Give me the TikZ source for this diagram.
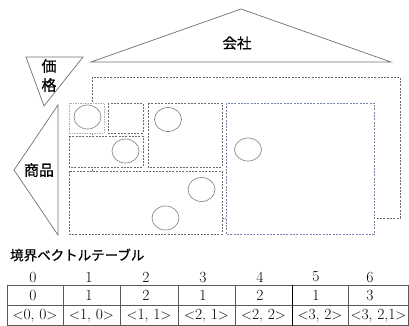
\documentclass[tikz,border=0pt]{standalone}
\usepackage{fontspec}
\newfontfamily\jp[FakeBold=0.8]{Noto Sans CJK JP}
\usetikzlibrary{shapes.geometric}
\definecolor{tri}{HTML}{707070}
\definecolor{dash}{HTML}{6A6A6A}
\definecolor{bluebox}{HTML}{7083B4}
\definecolor{lightbox}{HTML}{B0B0B0}
\tikzset{
  triline/.style={draw=tri, line width=0.7pt},
  dbox/.style={draw=dash, line width=0.55pt, dash pattern=on 2pt off 1.3pt, fill=white},
  lbox/.style={draw=lightbox, line width=0.9pt, dash pattern=on 1.5pt off 1pt, fill=white},
  bbox/.style={draw=bluebox, line width=0.55pt, dash pattern=on 2pt off 1.3pt, fill=white},
  blob/.style={ellipse, draw=tri!85, line width=0.65pt, minimum width=27pt, minimum height=24pt, inner sep=0pt},
  jlabel/.style={font=\jp\fontsize{15}{17}\selectfont, inner sep=0pt},
  cell/.style={font=\fontsize{15.5}{17}\selectfont, inner sep=0pt},
  tline/.style={draw=black!65, line width=0.6pt}
}
\begin{document}
\begin{tikzpicture}[x=1pt,y=-1pt]
\useasboundingbox (0,0) rectangle (409,326);
% company triangle
\coordinate (kL) at (91,62);
\coordinate (kT) at (241,9);
\coordinate (kR) at (391,62);
\draw[triline] (kL) -- (kT) -- (kR) -- cycle;
\node[jlabel, font=\jp\fontsize{14.5}{16}\selectfont] (kaisha) at (237,43) {会社};
% price triangle
\coordinate (pL) at (26,57);
\coordinate (pR) at (83,57);
\coordinate (pB) at (44,106);
\draw[triline] (pL) -- (pR) -- (pB) -- cycle;
\node[jlabel] (ka) at (49,66) {価};
\node[jlabel] (kaku) at (49,85) {格};
% product triangle
\coordinate (sT) at (58,105);
\coordinate (sB) at (58,235);
\coordinate (sL) at (14,170);
\draw[triline] (sT) -- (sB) -- (sL) -- cycle;
\node[jlabel] (shohin) at (39,170) {商品};
% outer rectangle
\draw[dbox, fill=none] (92,77) rectangle (400,218);
% inner boxes
\draw[lbox] (69,103) rectangle (104,133);
\draw[dbox] (108,103) rectangle (143,133);
\draw[dbox] (148,103) rectangle (222,167);
\draw[dbox] (69,136) rectangle (143,167);
\draw[dbox] (69,171) rectangle (222,234);
\draw[bbox] (226,103) rectangle (374,234);
% circles
\node[blob] (c1) at (87.5,117) {};
\node[blob] (c2) at (168,119.5) {};
\node[blob] (c3) at (125.5,151) {};
\node[blob] (c4) at (201.5,189.5) {};
\node[blob] (c5) at (165.5,218) {};
\node[blob, minimum height=23pt] (c6) at (248,149.5) {};
% table title
\node[font=\jp\fontsize{13.5}{15}\selectfont, anchor=west, inner sep=0pt] (title) at (10,255) {境界ベクトルテーブル};
% table lines
\draw[tline] (7,285) -- (408.5,285);
\draw[tline] (7,305) -- (408.5,305);
\draw[tline] (7,325.5) -- (408.5,325.5);
\foreach \x in {7,63,120,178,235,348,408.5} {\draw[tline] (\x,285) -- (\x,326);}
\draw[draw=black, line width=0.9pt] (292,285) -- (292,326);
% headers
\foreach \x/\t [count=\i] in {33/0,89/1,146/2,203/3,260/4,316/5,370/6} {
  \node[cell] (h\i) at (\x,277) {\t};
}
\foreach \x/\t [count=\i] in {33/0,89/1,146/2,203/1,260/2,316/1,370/3} {
  \node[cell] (v\i) at (\x,295.5) {\t};
}
\node[cell] (w1) at (35,316) {$<$0, 0$>$};
\node[cell] (w2) at (91.5,316) {$<$1, 0$>$};
\node[cell] (w3) at (149,316) {$<$1, 1$>$};
\node[cell] (w4) at (206.5,316) {$<$2, 1$>$};
\node[cell] (w5) at (263.5,316) {$<$2, 2$>$};
\node[cell] (w6) at (320,316) {$<$3, 2$>$};
\node[cell] (w7) at (378.5,316) {$<$3, 2,1$>$};
\end{tikzpicture}
\end{document}
